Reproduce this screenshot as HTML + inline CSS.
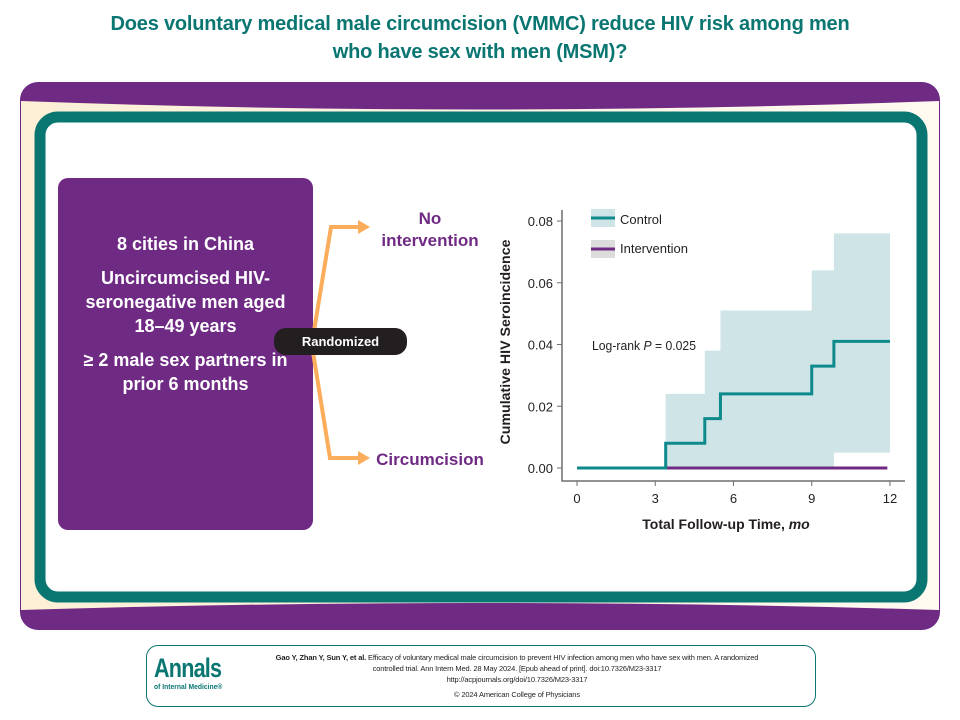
<!DOCTYPE html>
<html><head><meta charset="utf-8">
<style>
body{margin:0;width:960px;height:720px;background:#fff;font-family:"Liberation Sans",sans-serif;position:relative;overflow:hidden}
.abs{position:absolute}
</style></head><body>
<div class="abs" style="left:0;top:10px;width:960px;text-align:center;color:#0a7672;font-weight:bold;font-size:20px;line-height:28px;letter-spacing:-0.2px">Does voluntary medical male circumcision (VMMC) reduce HIV risk among men<br>who have sex with men (MSM)?</div>

<svg class="abs" style="left:0;top:0" width="960" height="720">
<defs><linearGradient id="cr" x1="0" x2="1"><stop offset="0" stop-color="#fdf0d6"/><stop offset="1" stop-color="#fffaf0"/></linearGradient></defs>
<rect x="20" y="82" width="920" height="548" rx="18" fill="#6f2a84"/>
<path d="M21 101 Q480 118 939 101 L939 610 Q480 596 21 610 Z" fill="url(#cr)"/>
<rect x="40" y="117" width="882" height="480" rx="18" fill="#fff" stroke="#0a7672" stroke-width="11"/>
</svg>

<div class="abs" style="left:58px;top:178px;width:255px;height:352px;background:#6f2a84;border-radius:10px;color:#fff;font-weight:bold;font-size:18px;line-height:24px;text-align:center">
<div style="margin-top:54px">8 cities in China</div>
<div style="margin-top:10px">Uncircumcised HIV-<br>seronegative men aged<br>18–49 years</div>
<div style="margin-top:10px">≥ 2 male sex partners in<br>prior 6 months</div>
</div>

<svg class="abs" style="left:0;top:0" width="960" height="720">
<polyline points="313,337 331,227 360,227" fill="none" stroke="#fbad5b" stroke-width="4"/>
<polygon points="358,220 370,227 358,234" fill="#fbad5b"/>
<polyline points="313,352 330,458 360,458" fill="none" stroke="#fbad5b" stroke-width="4"/>
<polygon points="358,451 370,458 358,465" fill="#fbad5b"/>
</svg>
<div class="abs" style="left:274px;top:328px;width:133px;height:27px;background:#231f20;border-radius:12px;color:#fff;font-weight:bold;font-size:13px;line-height:27px;text-align:center">Randomized</div>
<div class="abs" style="left:370px;top:208px;width:120px;text-align:center;color:#6f2a84;font-weight:bold;font-size:17px;line-height:22px">No<br>intervention</div>
<div class="abs" style="left:370px;top:449px;width:120px;text-align:center;color:#6f2a84;font-weight:bold;font-size:17px;line-height:22px">Circumcision</div>

<svg id="chart" class="abs" style="left:0;top:0" width="960" height="720"></svg>

<div class="abs" style="left:146px;top:645px;width:670px;height:62px;border:1.5px solid #0a7672;border-radius:12px;box-sizing:border-box"></div>
<div class="abs" style="left:154px;top:654px;color:#0a7672;font-weight:bold">
<div style="font-size:27px;line-height:28px;letter-spacing:-1px;transform:scaleX(0.8);transform-origin:left">Annals</div>
<div style="font-size:7.5px;line-height:9px;transform:scaleX(0.9);transform-origin:left">of Internal Medicine®</div></div>
<div class="abs" style="left:232px;top:652px;width:570px;text-align:center;font-size:7.5px;line-height:11px;color:#231f20;letter-spacing:-0.15px"><b>Gao Y, Zhan Y, Sun Y, et al.</b> Efficacy of voluntary medical male circumcision to prevent HIV infection among men who have sex with men. A randomized<br>controlled trial. Ann Intern Med. 28 May 2024. [Epub ahead of print]. doi:10.7326/M23-3317<br>http://acpjournals.org/doi/10.7326/M23-3317<div style="margin-top:4px">© 2024 American College of Physicians</div></div>

<script>
const stepTimes=[0,3.4,4.9,5.5,9,9.85,12];
const controlVals=[0,0.008,0.016,0.024,0.033,0.041,0.041];
const ciUpper=[0,0.024,0.038,0.051,0.064,0.076,0.076];
const ciLower=[0,0,0,0,0,0.005,0.005];
const interventionVals=[0,0];
const interventionTimes=[0,11.9];
const xTicks=[0,3,6,9,12];
const yTicks=[0,0.02,0.04,0.06,0.08];
const yTickLabels=["0.00","0.02","0.04","0.06","0.08"];
const NS="http://www.w3.org/2000/svg";
const svg=document.getElementById('chart');
const X=t=>577+t*26.08, Y=v=>468-v*3087.5;
function mk(tag,at,parent){const e=document.createElementNS(NS,tag);for(const k in at)e.setAttribute(k,at[k]);(parent||svg).appendChild(e);return e;}
let up="",lo="";
for(let i=0;i<stepTimes.length-1;i++){up+=`${X(stepTimes[i])},${Y(ciUpper[i])} ${X(stepTimes[i+1])},${Y(ciUpper[i])} `;}
for(let i=stepTimes.length-2;i>=0;i--){lo+=`${X(stepTimes[i+1])},${Y(ciLower[i])} ${X(stepTimes[i])},${Y(ciLower[i])} `;}
const band=mk('polygon',{points:up+lo,fill:'#cfe4e6'});


const ax=mk('path',{d:'M562 210 V481 H905',fill:'none',stroke:'#6d6e71','stroke-width':1.5});


yTicks.forEach((v,i)=>{
  mk('line',{x1:557,x2:562,y1:Y(v),y2:Y(v),stroke:'#6d6e71'});
  const t=mk('text',{x:553,y:Y(v)+5,'text-anchor':'end','font-size':13,fill:'#231f20','font-family':'Liberation Sans'});t.textContent=yTickLabels[i];
  
  
});
xTicks.forEach(v=>{
  mk('line',{x1:X(v),x2:X(v),y1:481,y2:486,stroke:'#6d6e71'});
  const t=mk('text',{x:X(v),y:503,'text-anchor':'middle','font-size':13,fill:'#231f20','font-family':'Liberation Sans'});t.textContent=v;
  
  
});
const il=mk('line',{x1:X(interventionTimes[0]),x2:X(interventionTimes[1]),y1:Y(interventionVals[0]),y2:Y(interventionVals[1]),stroke:'#6f2a84','stroke-width':3});


let cp="";
for(let i=0;i<stepTimes.length-1;i++){cp+=`${X(stepTimes[i])},${Y(controlVals[i])} ${X(stepTimes[i+1])},${Y(controlVals[i])} `;}
const cl=mk('polyline',{points:cp,fill:'none',stroke:'#0f8a8c','stroke-width':3});


const yl=mk('text',{x:0,y:0,transform:'translate(510,342) rotate(-90)','text-anchor':'middle','font-size':14,'font-weight':'bold',fill:'#231f20','font-family':'Liberation Sans','textLength':205,'lengthAdjust':'spacingAndGlyphs'});yl.textContent='Cumulative HIV Seroincidence';


const xl=mk('text',{x:726,y:529,'text-anchor':'middle','font-size':14,'font-weight':'bold',fill:'#231f20','font-family':'Liberation Sans'});xl.innerHTML='Total Follow-up Time, <tspan font-style="italic">mo</tspan>';


const lr=mk('text',{x:592,y:350,'font-size':13,fill:'#231f20','font-family':'Liberation Sans','textLength':104,'lengthAdjust':'spacingAndGlyphs'});lr.innerHTML='Log-rank <tspan font-style="italic">P</tspan> = 0.025';


const g1=mk('g',{});


mk('rect',{x:591,y:209,width:24,height:18,fill:'#cfe4e6'},g1);
mk('line',{x1:591,x2:615,y1:218,y2:218,stroke:'#0f8a8c','stroke-width':3},g1);
let t=mk('text',{x:620,y:224,'font-size':13,fill:'#231f20','font-family':'Liberation Sans'},g1);t.textContent='Control';
const g2=mk('g',{});


mk('rect',{x:591,y:240,width:24,height:18,fill:'#dcdcdc'},g2);
mk('line',{x1:591,x2:615,y1:249,y2:249,stroke:'#6f2a84','stroke-width':3},g2);
t=mk('text',{x:620,y:253,'font-size':13,fill:'#231f20','font-family':'Liberation Sans'},g2);t.textContent='Intervention';
</script>
</body></html>
